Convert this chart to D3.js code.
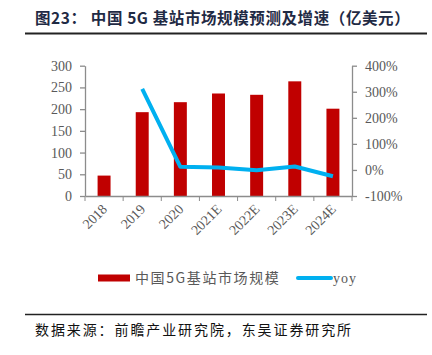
<!DOCTYPE html>
<html><head><meta charset="utf-8">
<script src="https://cdn.jsdelivr.net/npm/d3@7"></script>
<style>body{margin:0;background:#fff}svg{display:block}</style>
</head><body>
<svg id="c" width="432" height="355"></svg>
<script>
const categories = ["2018","2019","2020","2021E","2022E","2023E","2024E"];
const marketSize = [47,193,216,236,233,264,201];
const yoy = [null,311,12,9,-1,13,-24];
const leftTicks = [0,50,100,150,200,250,300];
const rightTicks = [-100,0,100,200,300,400];

const svg = d3.select("#c");
const L = 85, R = 352, T = 65.7, B = 196;
const serif = "'Liberation Serif','DejaVu Serif',serif";
const cjk = "'Noto Sans CJK SC',sans-serif";

// title
svg.append("text").attr("x",35).attr("y",24).attr("font-family",cjk).attr("font-weight","bold")
  .attr("font-size",15.5).attr("letter-spacing",0.6).attr("fill","#1f2a44").text("图23：  中国 5G 基站市场规模预测及增速（亿美元）");
svg.append("line").attr("x1",25).attr("x2",427).attr("y1",33.5).attr("y2",33.5).attr("stroke","#222").attr("stroke-width",2);

const x = d3.scaleBand().domain(categories).range([L,R]).paddingInner(0.66).paddingOuter(0.33);
const xb = d3.scaleBand().domain(categories).range([L,R]);
const y = d3.scaleLinear().domain([0,300]).range([B,T]);
const y2 = d3.scaleLinear().domain([-100,400]).range([B,T]);

// bars
svg.append("g").selectAll("rect").data(marketSize).join("rect")
  .attr("x",(d,i)=>x(categories[i])).attr("width",x.bandwidth())
  .attr("y",d=>y(d)).attr("height",d=>y(0)-y(d)).attr("fill","#C00000");

// line
const line = d3.line().defined(d=>d!=null).x((d,i)=>xb(categories[i])+xb.bandwidth()/2).y(d=>y2(d));
svg.append("path").datum(yoy).attr("d",line).attr("fill","none").attr("stroke","#00B0F0").attr("stroke-width",4).attr("stroke-linejoin","round");

// axes
const axisColor = "#8c8c8c", textColor = "#595959";
const gl = svg.append("g").attr("transform",`translate(${L},0)`)
  .call(d3.axisLeft(y).tickValues(leftTicks).tickSize(5).tickPadding(8).tickSizeOuter(0));
const gr = svg.append("g").attr("transform",`translate(${R},0)`)
  .call(d3.axisRight(y2).tickValues(rightTicks).tickSize(5).tickPadding(8).tickSizeOuter(0).tickFormat(d=>d+"%"));
const gb = svg.append("g").attr("transform",`translate(0,${B})`)
  .call(d3.axisBottom(xb).tickSize(0).tickPadding(0).tickSizeOuter(0));
// bottom boundary ticks
const bt = d3.range(categories.length+1).map(i=>L+i*xb.step());
svg.append("g").selectAll("line").data(bt).join("line")
  .attr("x1",d=>d).attr("x2",d=>d).attr("y1",B).attr("y2",B+5).attr("stroke",axisColor);

[gl,gr,gb].forEach(g=>{
  g.selectAll(".domain,.tick line").attr("stroke",axisColor).attr("stroke-width",1.3);
  g.selectAll("text").attr("font-family",serif).attr("font-size",14).attr("fill",textColor);
});
gb.selectAll("text").attr("text-anchor","end").attr("dy",0)
  .attr("transform","translate(4,14) rotate(-45)");

// legend
svg.append("rect").attr("x",98).attr("y",274.5).attr("width",32).attr("height",7).attr("fill","#C00000");
svg.append("text").attr("x",135).attr("y",283).attr("font-family",cjk).attr("font-size",14).attr("letter-spacing",1.6).attr("fill",textColor).text("中国5G基站市场规模");
svg.append("line").attr("x1",298).attr("x2",331).attr("y1",278).attr("y2",278).attr("stroke","#00B0F0").attr("stroke-width",4).attr("stroke-linecap","round");
svg.append("text").attr("x",333).attr("y",282.5).attr("font-family",serif).attr("font-size",14).attr("letter-spacing",1).attr("fill",textColor).text("yoy");

// source
svg.append("line").attr("x1",25).attr("x2",427).attr("y1",314.5).attr("y2",314.5).attr("stroke","#222").attr("stroke-width",1.5);
svg.append("text").attr("x",35).attr("y",335).attr("font-family",cjk).attr("font-size",14).attr("letter-spacing",1.9).attr("fill","#111").text("数据来源：前瞻产业研究院，东吴证券研究所");
</script>
</body></html>
